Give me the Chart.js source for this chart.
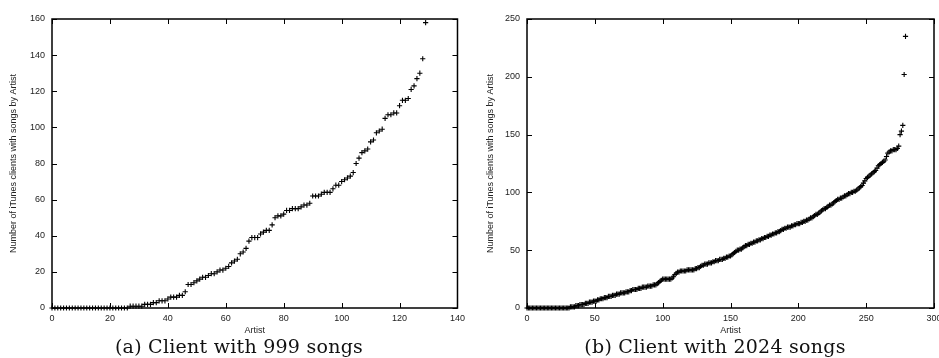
<!DOCTYPE html>
<html>
<head>
<meta charset="utf-8">
<script src="https://cdn.jsdelivr.net/npm/chart.js@4.4.0/dist/chart.umd.min.js"></script>
<style>
html, body { margin: 0; padding: 0; background: #fff; overflow: hidden; width: 939px; height: 358px; }
.box { position: absolute; top: 0; height: 358px; }
.cap { position: absolute; top: 335px; font-family: "DejaVu Serif", serif; font-size: 19px; letter-spacing: 0.25px; color: #111; white-space: nowrap; transform: translateX(-50%); }
</style>
</head>
<body>
<div class="box" style="left:0;width:470px"><canvas id="chart-a"></canvas></div>
<div class="box" style="left:470px;width:480px"><canvas id="chart-b"></canvas></div>
<div class="cap" style="left:239px">(a) Client with 999 songs</div>
<div class="cap" style="left:715px">(b) Client with 2024 songs</div>
<script>
// clients per artist, sorted, client with 999 songs (artist rank 0..129)
var songs999 = [
	0, 0, 0, 0, 0, 0, 0, 0, 0, 0,
	0, 0, 0, 0, 0, 0, 0, 0, 0, 0,
	0, 0, 0, 0, 0, 0, 0, 1, 1, 1,
	1, 1, 2, 2, 2, 3, 3, 4, 4, 4,
	5, 6, 6, 6, 7, 7, 9, 13, 13, 14,
	15, 16, 17, 17, 18, 19, 19, 20, 21, 21,
	22, 23, 25, 26, 27, 30, 31, 33, 37, 39,
	39, 39, 41, 42, 43, 43, 46, 50, 51, 51,
	52, 54, 54, 55, 55, 55, 56, 57, 57, 58,
	62, 62, 62, 63, 64, 64, 64, 66, 68, 68,
	70, 71, 72, 73, 75, 80, 83, 86, 87, 88,
	92, 93, 97, 98, 99, 105, 107, 107, 108, 108,
	112, 115, 115, 116, 121, 123, 127, 130, 138, 158
];
// client with 2024 songs (artist rank 0..279)
var songs2024 = [
	0, 0, 0, 0, 0, 0, 0, 0, 0, 0,
	0, 0, 0, 0, 0, 0, 0, 0, 0, 0,
	0, 0, 0, 0, 0, 0, 0, 0, 0, 0,
	0, 0, 1, 1, 1, 1, 2, 2, 2, 3,
	3, 3, 3, 4, 4, 4, 5, 5, 5, 6,
	6, 6, 7, 7, 8, 8, 8, 9, 9, 9,
	10, 10, 10, 11, 11, 11, 12, 12, 12, 13,
	13, 13, 13, 14, 14, 14, 15, 15, 16, 16,
	16, 16, 17, 17, 17, 18, 18, 18, 18, 19,
	19, 19, 19, 20, 20, 20, 21, 22, 23, 24,
	25, 25, 25, 25, 25, 25, 25, 26, 27, 29,
	30, 31, 31, 32, 32, 32, 32, 32, 33, 33,
	33, 33, 33, 33, 34, 34, 35, 35, 36, 37,
	37, 38, 38, 38, 39, 39, 39, 40, 40, 41,
	41, 41, 42, 42, 42, 43, 43, 44, 44, 45,
	45, 46, 47, 48, 49, 50, 50, 51, 51, 52,
	53, 54, 54, 55, 55, 56, 56, 57, 57, 58,
	58, 59, 59, 60, 60, 61, 61, 62, 62, 63,
	63, 64, 64, 65, 65, 66, 66, 67, 68, 68,
	69, 69, 70, 70, 70, 71, 71, 72, 72, 73,
	73, 73, 74, 74, 75, 75, 76, 76, 77, 78,
	78, 79, 80, 81, 81, 82, 83, 84, 85, 86,
	86, 87, 88, 89, 89, 90, 91, 92, 93, 94,
	94, 95, 95, 96, 97, 97, 98, 99, 99, 100,
	100, 101, 101, 102, 103, 104, 105, 106, 108, 110,
	112, 113, 114, 115, 116, 117, 118, 119, 121, 123,
	124, 125, 126, 127, 128, 131, 134, 135, 136, 136,
	137, 137, 137, 138, 140, 150, 153, 158, 202, 235
];
var yTitle = "Number of iTunes clients with songs by Artist";
var xTitle = "Artist";

Chart.defaults.font.family = "'Liberation Sans', Arial, sans-serif";
Chart.defaults.font.size = 9;
Chart.defaults.color = "#000";

// gnuplot style frame with inward ticks on all four sides
var framePlugin = {
	id: "frame",
	beforeDatasetsDraw: function(chart) {
		var ctx = chart.ctx;
		var a = chart.chartArea;
		var xs = chart.scales.x;
		var ys = chart.scales.y;
		ctx.save();
		ctx.strokeStyle = "#000";
		ctx.lineWidth = 1.5;
		ctx.strokeRect(a.left, a.top, a.right - a.left, a.bottom - a.top);
		ctx.lineWidth = 1;
		ctx.beginPath();
		xs.ticks.forEach(function(t) {
			var p = Math.round(xs.getPixelForValue(t.value)) + 0.5;
			ctx.moveTo(p, a.bottom); ctx.lineTo(p, a.bottom - 5);
			ctx.moveTo(p, a.top); ctx.lineTo(p, a.top + 5);
		});
		ys.ticks.forEach(function(t) {
			var p = Math.round(ys.getPixelForValue(t.value)) + 0.5;
			ctx.moveTo(a.left, p); ctx.lineTo(a.left + 5, p);
			ctx.moveTo(a.right, p); ctx.lineTo(a.right - 5, p);
		});
		ctx.stroke();
		ctx.restore();
	}
};

function makeChart(canvasId, values, xMax, xStep, yMax, yStep, yWidth, yTitlePad, pad) {
	var points = values.map(function(v, i) { return {x: i, y: v}; });
	return new Chart(document.getElementById(canvasId), {
		type: "scatter",
		data: {
			datasets: [{
				data: points,
				pointStyle: "cross",
				pointRadius: 2.6,
				pointBorderWidth: 1.1,
				borderColor: "#000",
				backgroundColor: "#000",
				clip: false
			}]
		},
		options: {
			responsive: true,
			maintainAspectRatio: false,
			animation: false,
			layout: { padding: pad },
			plugins: { legend: { display: false }, tooltip: { enabled: false } },
			scales: {
				x: {
					type: "linear", min: 0, max: xMax,
					ticks: { stepSize: xStep, padding: 5, color: "#222", maxRotation: 0 },
					grid: { display: false, drawTicks: false, tickLength: 0 },
					border: { display: false },
					title: { display: true, text: xTitle, padding: { top: 2, bottom: 0 }, color: "#222" },
					afterFit: function(scale) { scale.height = 28; }
				},
				y: {
					type: "linear", min: 0, max: yMax,
					ticks: { stepSize: yStep, padding: 7, color: "#222" },
					grid: { display: false, drawTicks: false, tickLength: 0 },
					border: { display: false },
					title: { display: true, text: yTitle, padding: { top: yTitlePad, bottom: 0 }, color: "#222" },
					afterFit: function(scale) { scale.width = yWidth; }
				}
			}
		},
		plugins: [framePlugin]
	});
}

makeChart("chart-a", songs999, 140, 20, 160, 20, 52, 8, { left: 0, right: 6, top: 19, bottom: 22 });
makeChart("chart-b", songs2024, 300, 50, 250, 50, 57, 15, { left: 0, right: 16, top: 19, bottom: 22 });
</script>
</body>
</html>
